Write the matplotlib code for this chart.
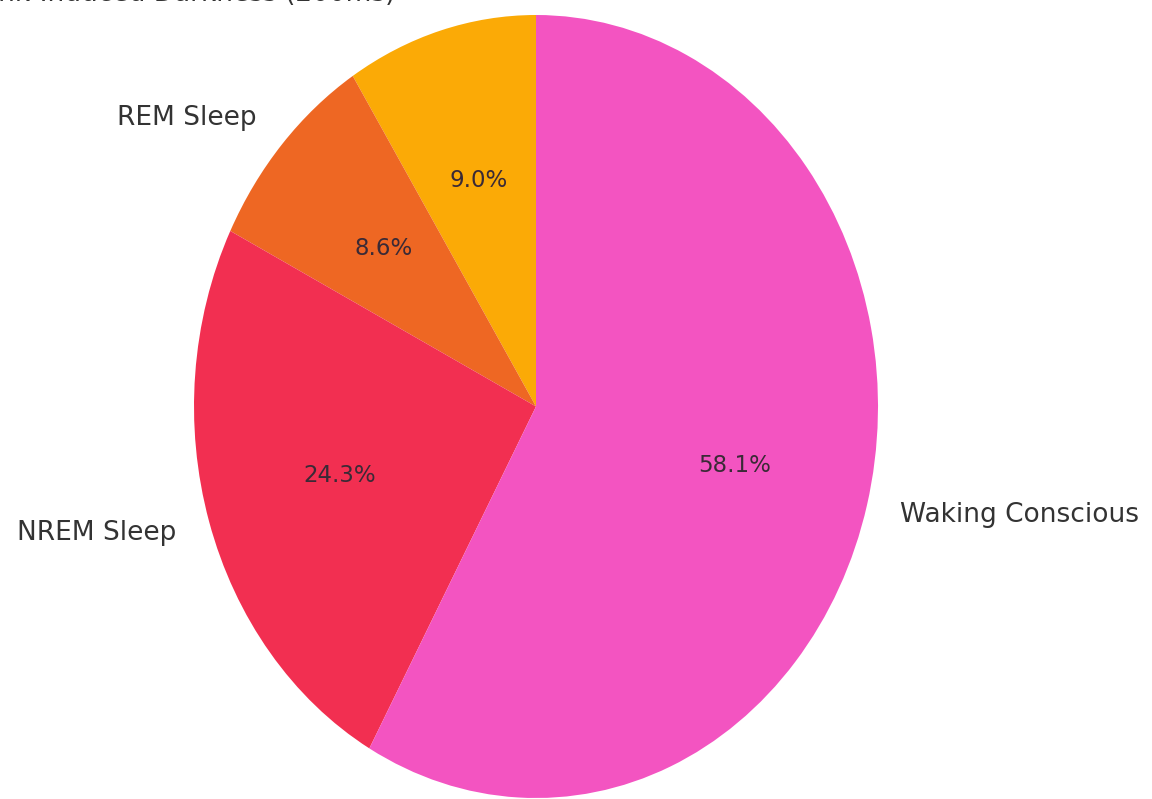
import matplotlib
matplotlib.use("Agg")
import matplotlib.pyplot as plt

# states of consciousness during a 200 ms blink
states = ["", "REM Sleep", "NREM Sleep", "Waking Conscious"]
shares = [9.0, 8.6, 24.3, 58.1]
colors = ["#FBAA06", "#EE6723", "#F22F51", "#F354C1"]

W, H = 1152, 799
fig = plt.figure(figsize=(W / 100, H / 100), dpi=100)

# pie spans x 194..878 px, y 15..798 px
cx, cy, rx, ry = 536, 406.5, 342, 391.5
ax = fig.add_axes([(cx - rx) / W, 1 - (cy + ry) / H, 2 * rx / W, 2 * ry / H])

wedges, texts, autotexts = ax.pie(
    shares, labels=states, colors=colors, autopct="%1.1f%%",
    startangle=90, counterclock=True, labeldistance=1.1, pctdistance=0.6,
    textprops={"fontsize": 19, "color": "#333333"},
)
for t in autotexts:
    t.set_fontsize(16.5)
    t.set_color("#3a2a36")
ax.set_aspect("auto")
ax.set_xlim(-1, 1)
ax.set_ylim(-1, 1)
ax.set_clip_on(False)
for t in texts + autotexts:
    t.set_clip_on(False)

fig.text(395 / W, 1 + 6 / H, "States of Consciousness in Blink-Induced Darkness (200ms)",
         ha="right", va="center", fontsize=19, color="#333333")

fig.savefig("out.png", dpi=100, facecolor="white")
